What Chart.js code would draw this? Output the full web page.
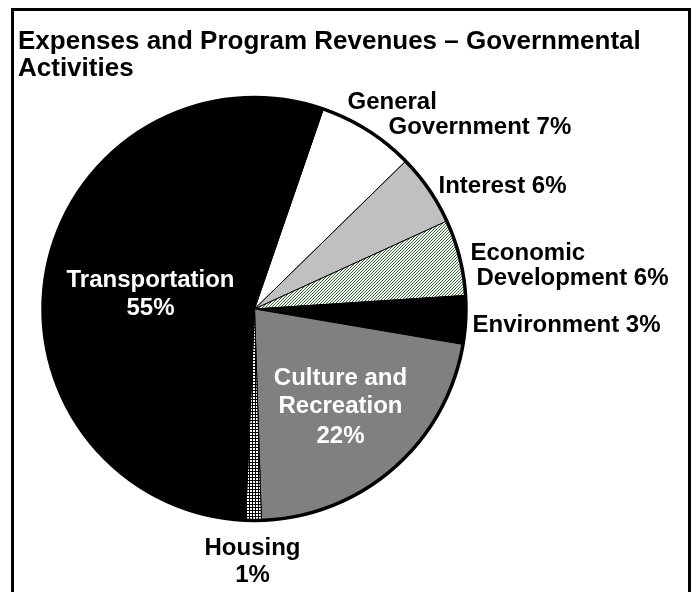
<!DOCTYPE html>
<html><head><meta charset="utf-8">
<script src="https://cdn.jsdelivr.net/npm/chart.js@4"></script>
<style>html,body{margin:0;padding:0;background:#fff}#wrap{width:698px;height:592px;position:relative}</style>
</head><body><div id="wrap"><canvas id="c" width="698" height="592"></canvas></div>
<script>
// ---- data ----
const categories = ['General Government', 'Interest', 'Economic Development', 'Environment', 'Culture and Recreation', 'Housing', 'Transportation'];
const values = [7.4, 5.5, 5.8, 3.7, 21.8, 1.2, 54.6];
const percentLabels = ['7%', '6%', '6%', '3%', '22%', '1%', '55%'];
const labelLines = [
  ['General', 'Government 7%'],
  ['Interest 6%'],
  ['Economic', 'Development 6%'],
  ['Environment 3%'],
  ['Culture and', 'Recreation', '22%'],
  ['Housing', '1%'],
  ['Transportation', '55%']
];
const titleLines = ['Expenses and Program Revenues \u2013 Governmental', 'Activities'];

// ---- styles ----
function makePattern(size, draw) {
  const cv = document.createElement('canvas');
  cv.width = size; cv.height = size;
  const g = cv.getContext('2d');
  draw(g, size);
  return document.getElementById('c').getContext('2d').createPattern(cv, 'repeat');
}
const greenHatch = makePattern(3, (g, s) => {
  g.fillStyle = '#f4f8f4'; g.fillRect(0, 0, s, s);
  g.fillStyle = '#3f6a3f';
  for (let i = 0; i < s; i++) { g.fillRect(i, s - 1 - i, 1, 1); }
});
const gridHatch = makePattern(3, (g, s) => {
  g.fillStyle = '#ffffff'; g.fillRect(0, 0, s, s);
  g.fillStyle = '#000000'; g.fillRect(0, 0, s, 1); g.fillRect(0, 0, 1, s);
});
const sliceColors = ['#ffffff', '#c0c0c0', greenHatch, '#000000', '#808080', gridHatch, '#000000'];
// label layout: [dx, dy, align, color] per line, relative to pie center
const labelLayout = [
  [[93, -200, 'left', '#000'], [134, -175, 'left', '#000']],
  [[184, -116, 'left', '#000']],
  [[216, -49, 'left', '#000'], [222, -24, 'left', '#000']],
  [[218, 23, 'left', '#000']],
  [[86, 76, 'center', '#fff'], [86, 104, 'center', '#fff'], [86, 134, 'center', '#fff']],
  [[-2, 246, 'center', '#000'], [-2, 273, 'center', '#000']],
  [[-104, -22, 'center', '#fff'], [-104, 6, 'center', '#fff']]
];

const decor = {
  id: 'decor',
  afterDraw(chart) {
    const ctx = chart.ctx;
    const arc = chart.getDatasetMeta(0).data[0];
    const cx = arc.x, cy = arc.y, r = arc.outerRadius;
    ctx.save();
    // outer ring
    ctx.beginPath(); ctx.arc(cx, cy, r, 0, Math.PI * 2);
    ctx.lineWidth = 3.5; ctx.strokeStyle = '#000'; ctx.stroke();
    // frame
    ctx.lineWidth = 3; ctx.strokeRect(12.5, 9.5, 677, 600);
    // title
    ctx.fillStyle = '#000';
    ctx.font = 'bold 26px "Liberation Sans", Arial, sans-serif';
    ctx.textAlign = 'left'; ctx.textBaseline = 'alphabetic';
    titleLines.forEach((t, i) => ctx.fillText(t, 18, 49 + i * 27));
    // slice labels
    ctx.font = 'bold 24px "Liberation Sans", Arial, sans-serif';
    labelLines.forEach((lines, k) => {
      lines.forEach((t, j) => {
        const L = labelLayout[k][j];
        ctx.textAlign = L[2]; ctx.fillStyle = L[3];
        ctx.fillText(t, cx + L[0], cy + L[1]);
      });
    });
    ctx.restore();
  }
};

new Chart(document.getElementById('c'), {
  type: 'pie',
  data: {
    labels: categories,
    datasets: [{
      data: values,
      backgroundColor: sliceColors,
      borderColor: '#000000',
      borderWidth: 1,
      hoverBorderWidth: 1
    }]
  },
  options: {
    responsive: false,
    animation: false,
    rotation: 19,
    layout: { padding: { left: 42, right: 231, top: 97, bottom: 71 } },
    plugins: { legend: { display: false }, tooltip: { enabled: false }, title: { display: false } },
    events: []
  },
  plugins: [decor]
});
</script>
</body></html>
